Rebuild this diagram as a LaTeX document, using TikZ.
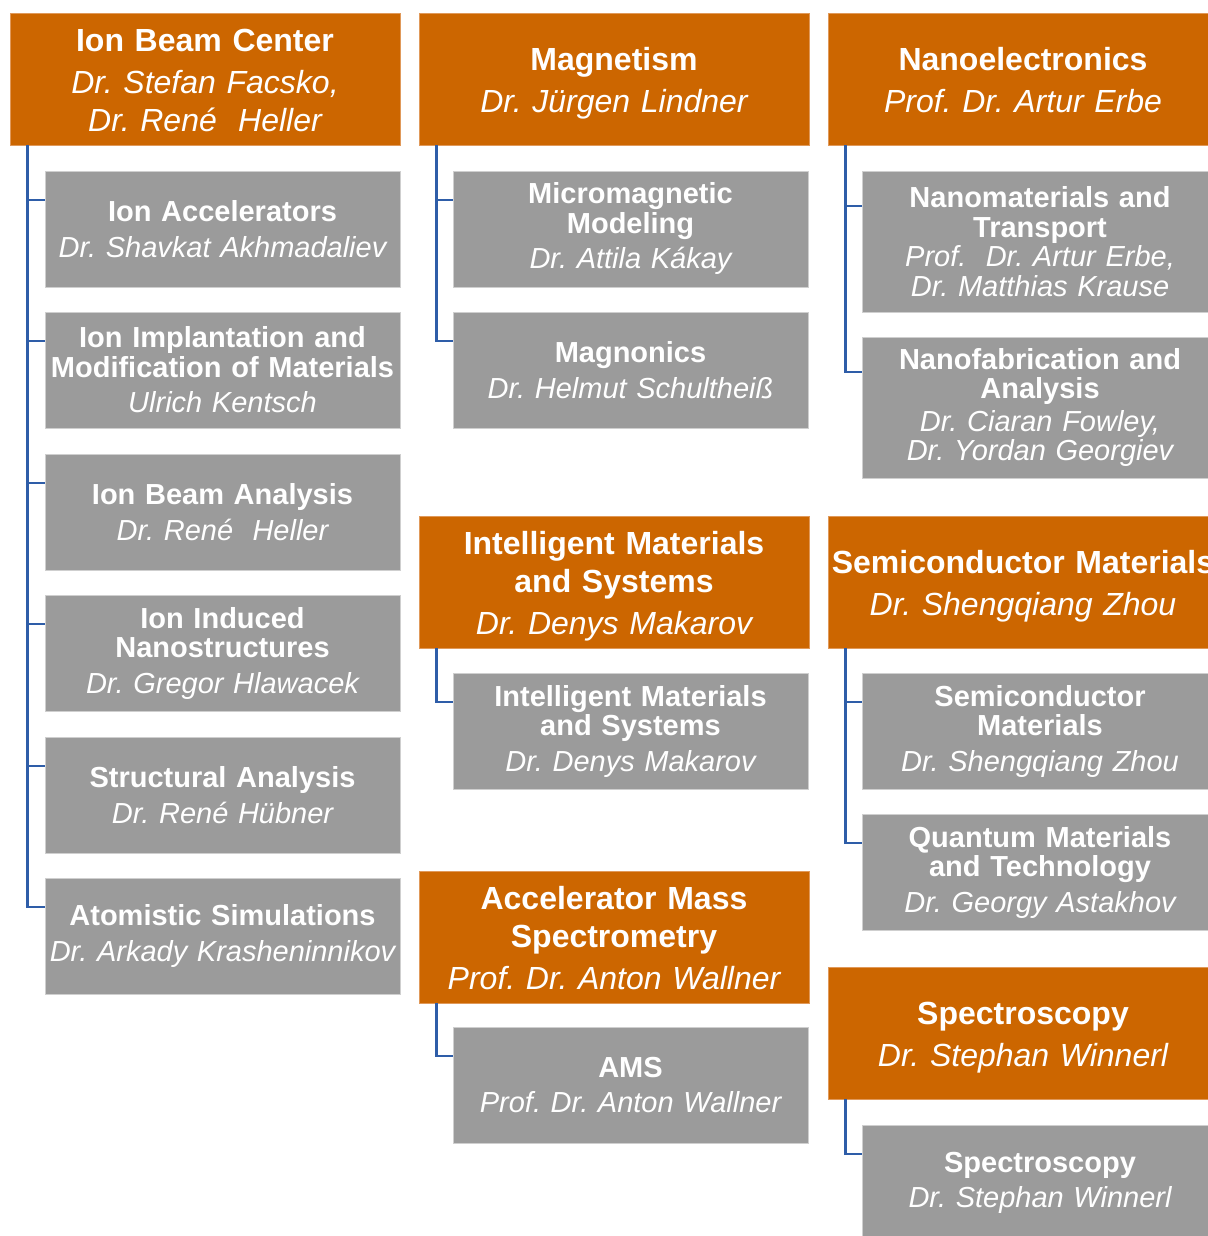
\documentclass[tikz,border=0pt]{standalone}
\usepackage{fontspec}
\setmainfont{Liberation Sans}
\usetikzlibrary{calc}
\definecolor{headfill}{HTML}{CC6600}
\definecolor{headedge}{HTML}{E0995A}
\definecolor{groupfill}{HTML}{9B9B9B}
\definecolor{groupedge}{HTML}{CFCFCF}
\definecolor{linkblue}{HTML}{2E5DA8}
\frenchspacing

% title in bold, head of the group in italics
\newcommand{\grp}[3][6pt]{\bfseries #2\\[#1]\mdseries\itshape #3}

\begin{document}
\begin{tikzpicture}[
    x=1pt, y=-1pt,
    divbox/.style={
        rectangle,
        minimum width=390pt,
        minimum height=132pt,
        text width=390pt,
        inner sep=0pt,
        fill=headfill,
        draw=headedge,
        line width=0.75pt,
        align=center,
        text=white,
        font=\fontsize{32}{38}\selectfont,
        execute at begin node={\rule{0pt}{35pt}},
        execute at end node={\rule[-10pt]{0pt}{0pt}},
    },
    groupbox/.style={
        rectangle,
        minimum width=355pt,
        minimum height=116pt,
        text width=355pt,
        inner sep=0pt,
        fill=groupfill,
        draw=groupedge,
        line width=0.75pt,
        align=center,
        text=white,
        font=\fontsize{29}{29.5}\selectfont,
    },
    link/.style={
        draw=linkblue,
        line width=2.4pt,
    },
]

% White page
\path[use as bounding box, fill=white] (0,0) rectangle (1207,1236);

% Divisions (orange)
\node[divbox] (ibc) at (205,79) {\grp[4pt]{Ion Beam Center}{Dr. Stefan Facsko,\\Dr. René~~Heller}};
\node[divbox] (magn) at (614,79) {\grp[4pt]{Magnetism}{Dr. Jürgen Lindner}};
\node[divbox] (nano) at (1023,79) {\grp[4pt]{Nanoelectronics}{Prof. Dr. Artur Erbe}};
\node[divbox] (imsdiv) at (614,582) {\grp[4pt]{Intelligent Materials\\and Systems}{Dr. Denys Makarov}};
\node[divbox] (semidiv) at (1023,582) {\grp[4pt]{Semiconductor Materials}{Dr. Shengqiang Zhou}};
\node[divbox] (amsdiv) at (614,937) {\grp[4pt]{Accelerator Mass\\Spectrometry}{Prof. Dr. Anton Wallner}};
\node[divbox] (specdiv) at (1023,1033) {\grp[4pt]{Spectroscopy}{Dr. Stephan Winnerl}};

% Groups, first column
\node[groupbox] (acc) at (222.5,229) {\grp{Ion Accelerators}{Dr. Shavkat Akhmadaliev}};
\node[groupbox] (impl) at (222.5,370) {\grp{Ion Implantation and\\Modification of Materials}{Ulrich Kentsch}};
\node[groupbox] (iba) at (222.5,512) {\grp{Ion Beam Analysis}{Dr. René~~Heller}};
\node[groupbox] (ind) at (222.5,653) {\grp{Ion Induced\\Nanostructures}{Dr. Gregor Hlawacek}};
\node[groupbox] (struct) at (222.5,795) {\grp{Structural Analysis}{Dr. René Hübner}};
\node[groupbox] (atom) at (222.5,936) {\grp{Atomistic Simulations}{Dr. Arkady Krasheninnikov}};

% Groups, second column
\node[groupbox] (micro) at (630.5,229) {\grp{Micromagnetic\\Modeling}{Dr. Attila Kákay}};
\node[groupbox] (magnon) at (630.5,370) {\grp{Magnonics}{Dr. Helmut Schultheiß}};
\node[groupbox] (ims) at (630.5,731) {\grp{Intelligent Materials\\and Systems}{Dr. Denys Makarov}};
\node[groupbox] (ams) at (630.5,1085) {\grp{AMS}{Prof. Dr. Anton Wallner}};

% Groups, third column
\node[groupbox, minimum height=141pt] (nanomat) at (1040,241.5) {\grp[0pt]{Nanomaterials and\\Transport}{Prof.~~Dr. Artur Erbe,\\Dr. Matthias Krause}};
\node[groupbox, minimum height=141pt] (nanofab) at (1040,407.5) {\grp[3pt]{Nanofabrication and\\Analysis}{Dr. Ciaran Fowley,\\Dr. Yordan Georgiev}};
\node[groupbox] (semi) at (1040,731) {\grp{Semiconductor\\Materials}{Dr. Shengqiang Zhou}};
\node[groupbox] (quant) at (1040,872) {\grp{Quantum Materials\\and Technology}{Dr. Georgy Astakhov}};
\node[groupbox] (spec) at (1040,1183) {\grp{Spectroscopy}{Dr. Stephan Winnerl}};

% Links division -> group
\draw[link] ([xshift=18pt]ibc.south west) |- ($(acc.north west)!0.25!(acc.south west)$);
\draw[link] ([xshift=18pt]ibc.south west) |- ($(impl.north west)!0.25!(impl.south west)$);
\draw[link] ([xshift=18pt]ibc.south west) |- ($(iba.north west)!0.25!(iba.south west)$);
\draw[link] ([xshift=18pt]ibc.south west) |- ($(ind.north west)!0.25!(ind.south west)$);
\draw[link] ([xshift=18pt]ibc.south west) |- ($(struct.north west)!0.25!(struct.south west)$);
\draw[link] ([xshift=18pt]ibc.south west) |- ($(atom.north west)!0.25!(atom.south west)$);

\draw[link] ([xshift=18pt]magn.south west) |- ($(micro.north west)!0.25!(micro.south west)$);
\draw[link] ([xshift=18pt]magn.south west) |- ($(magnon.north west)!0.25!(magnon.south west)$);
\draw[link] ([xshift=18pt]imsdiv.south west) |- ($(ims.north west)!0.25!(ims.south west)$);
\draw[link] ([xshift=18pt]amsdiv.south west) |- ($(ams.north west)!0.25!(ams.south west)$);

\draw[link] ([xshift=18pt]nano.south west) |- ($(nanomat.north west)!0.25!(nanomat.south west)$);
\draw[link] ([xshift=18pt]nano.south west) |- ($(nanofab.north west)!0.25!(nanofab.south west)$);
\draw[link] ([xshift=18pt]semidiv.south west) |- ($(semi.north west)!0.25!(semi.south west)$);
\draw[link] ([xshift=18pt]semidiv.south west) |- ($(quant.north west)!0.25!(quant.south west)$);
\draw[link] ([xshift=18pt]specdiv.south west) |- ($(spec.north west)!0.25!(spec.south west)$);

\end{tikzpicture}
\end{document}
